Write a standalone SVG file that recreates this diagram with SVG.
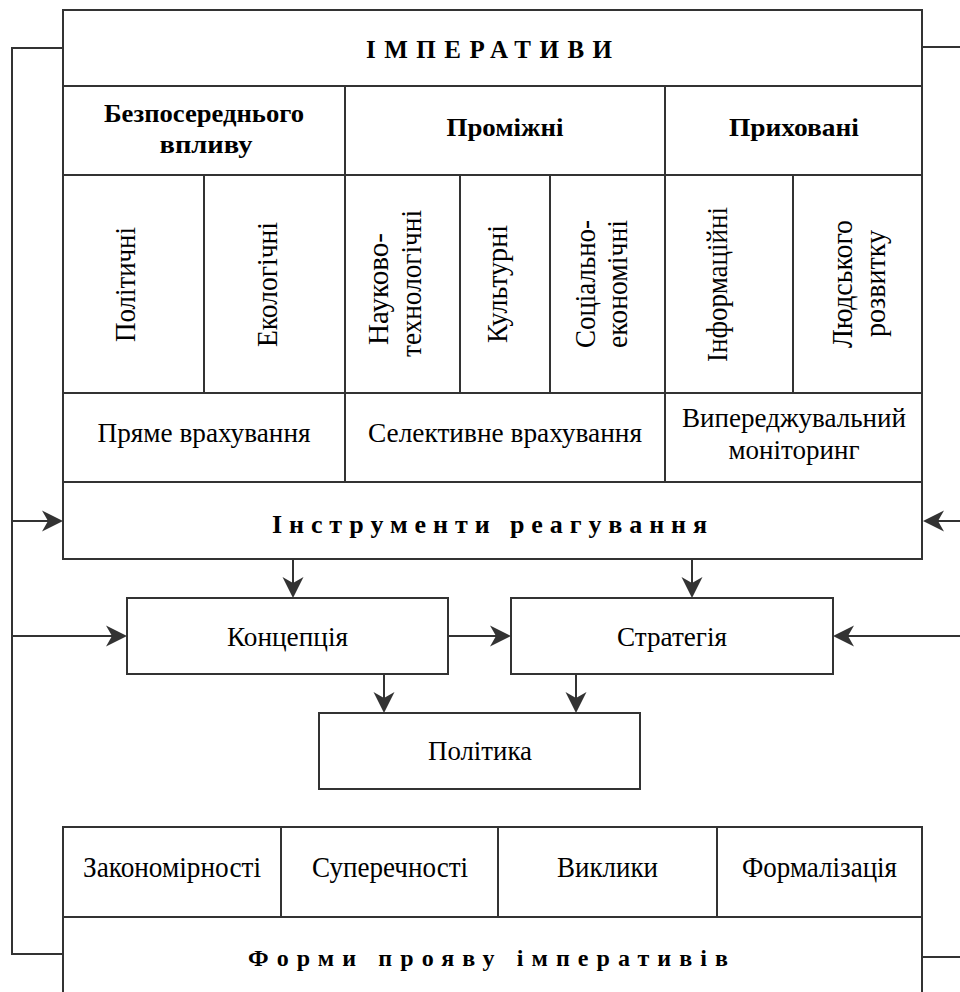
<svg xmlns="http://www.w3.org/2000/svg" width="960" height="992" viewBox="0 0 960 992" font-family="'Liberation Serif', 'DejaVu Serif', serif">
<defs>
<style>
.c{fill:#fff;stroke:#333;stroke-width:2}
.l{fill:none;stroke:#333;stroke-width:2}
text{font-family:"Liberation Serif","DejaVu Serif",serif;fill:#000;text-anchor:middle}
.b{font-weight:bold;font-size:26px}
.r{font-size:27px}
.v{font-size:29px}
.s{font-size:29px}
</style>
<marker id="arr" markerUnits="userSpaceOnUse" markerWidth="24" markerHeight="24" viewBox="-22 -12 24 24" refX="-10" refY="0" orient="auto">
<path d="M0,0 L-21,-10.5 L-15,0 L-21,10.5 Z" fill="#333"/>
</marker>
</defs>
<rect width="960" height="992" fill="#fff"/>

<g id="connectors">
<path class="l" d="M63,48 H12 V954 H63"/>
<path class="l" d="M12,521 H53" marker-end="url(#arr)"/>
<path class="l" d="M12,636 H117" marker-end="url(#arr)"/>
<path class="l" d="M922,47 H960"/>
<path class="l" d="M922,957 H960"/>
<path class="l" d="M960,521 H933" marker-end="url(#arr)"/>
<path class="l" d="M960,636 H843" marker-end="url(#arr)"/>
<path class="l" d="M293,559 V588" marker-end="url(#arr)"/>
<path class="l" d="M692,559 V588" marker-end="url(#arr)"/>
<path class="l" d="M384,674 V703" marker-end="url(#arr)"/>
<path class="l" d="M576,674 V703" marker-end="url(#arr)"/>
<path class="l" d="M448,636 H501" marker-end="url(#arr)"/>
</g>

<g id="imperatives">
<rect class="c" x="63" y="10" width="859" height="76"/>
<text class="b" style="font-size:25px" x="489" y="58" textLength="246" lengthAdjust="spacing">ІМПЕРАТИВИ</text>
</g>
<g id="direct-impact">
<rect class="c" x="63" y="86" width="282" height="89"/>
<text class="b" x="204" y="122" textLength="200" lengthAdjust="spacingAndGlyphs">Безпосереднього</text>
<text class="b" x="206" y="153" textLength="93" lengthAdjust="spacingAndGlyphs">впливу</text>
</g>
<g id="intermediate">
<rect class="c" x="345" y="86" width="320" height="89"/>
<text class="b" x="505" y="136" textLength="117" lengthAdjust="spacingAndGlyphs">Проміжні</text>
</g>
<g id="hidden">
<rect class="c" x="665" y="86" width="257" height="89"/>
<text class="b" x="794" y="136" textLength="130" lengthAdjust="spacingAndGlyphs">Приховані</text>
</g>

<g id="political">
<rect class="c" x="63" y="175" width="141" height="218"/>
<text class="v" transform="translate(135,284.5) rotate(-90)" textLength="115" lengthAdjust="spacingAndGlyphs">Політичні</text>
</g>
<g id="ecological">
<rect class="c" x="204" y="175" width="141" height="218"/>
<text class="v" transform="translate(277,284.5) rotate(-90)" textLength="125" lengthAdjust="spacingAndGlyphs">Екологічні</text>
</g>
<g id="scitech">
<rect class="c" x="345" y="175" width="115" height="218"/>
<text class="v" transform="translate(388,289) rotate(-90)" textLength="112" lengthAdjust="spacingAndGlyphs">Науково-</text>
<text class="v" transform="translate(421,283.5) rotate(-90)" textLength="147" lengthAdjust="spacingAndGlyphs">технологічні</text>
</g>
<g id="cultural">
<rect class="c" x="460" y="175" width="90" height="218"/>
<text class="v" transform="translate(507,284) rotate(-90)" textLength="118" lengthAdjust="spacingAndGlyphs">Культурні</text>
</g>
<g id="socioeconomic">
<rect class="c" x="550" y="175" width="115" height="218"/>
<text class="v" transform="translate(595,284) rotate(-90)" textLength="128" lengthAdjust="spacingAndGlyphs">Соціально-</text>
<text class="v" transform="translate(627,284) rotate(-90)" textLength="128" lengthAdjust="spacingAndGlyphs">економічні</text>
</g>
<g id="informational">
<rect class="c" x="665" y="175" width="128" height="218"/>
<text class="v" transform="translate(727,284.5) rotate(-90)" textLength="155" lengthAdjust="spacingAndGlyphs">Інформаційні</text>
</g>
<g id="human">
<rect class="c" x="793" y="175" width="129" height="218"/>
<text class="v" transform="translate(852,284) rotate(-90)" textLength="128" lengthAdjust="spacingAndGlyphs">Людського</text>
<text class="v" transform="translate(885,283.5) rotate(-90)" textLength="107" lengthAdjust="spacingAndGlyphs">розвитку</text>
</g>

<g id="direct-accounting">
<rect class="c" x="63" y="393" width="282" height="89"/>
<text class="r" x="204" y="442" textLength="213" lengthAdjust="spacingAndGlyphs">Пряме врахування</text>
</g>
<g id="selective-accounting">
<rect class="c" x="345" y="393" width="320" height="89"/>
<text class="r" x="505" y="442" textLength="274" lengthAdjust="spacingAndGlyphs">Селективне врахування</text>
</g>
<g id="monitoring">
<rect class="c" x="665" y="393" width="257" height="89"/>
<text class="r" x="794" y="427" textLength="224" lengthAdjust="spacingAndGlyphs">Випереджувальний</text>
<text class="r" x="794" y="459" textLength="131" lengthAdjust="spacingAndGlyphs">моніторинг</text>
</g>

<g id="instruments">
<rect class="c" x="63" y="482" width="859" height="77"/>
<text class="b" x="489.5" y="533" textLength="435" lengthAdjust="spacing">Інструменти реагування</text>
</g>

<g id="concept">
<rect class="c" x="127" y="598" width="321" height="76"/>
<text class="r" x="287.5" y="646" textLength="121" lengthAdjust="spacingAndGlyphs">Концепція</text>
</g>
<g id="strategy">
<rect class="c" x="511" y="598" width="322" height="76"/>
<text class="r" x="672" y="646" textLength="110" lengthAdjust="spacingAndGlyphs">Стратегія</text>
</g>
<g id="policy">
<rect class="c" x="319" y="713" width="321" height="76"/>
<text class="r" x="480" y="760" textLength="104" lengthAdjust="spacingAndGlyphs">Політика</text>
</g>

<g id="forms">
<rect class="c" x="63" y="917" width="859" height="90"/>
<text class="b" style="font-size:24px" x="488" y="966" textLength="480" lengthAdjust="spacing">Форми прояву імперативів</text>
</g>
<g id="regularities">
<rect class="c" x="63" y="827" width="218" height="90"/>
<text class="s" x="172" y="877" textLength="178" lengthAdjust="spacingAndGlyphs">Закономірності</text>
</g>
<g id="contradictions">
<rect class="c" x="281" y="827" width="217" height="90"/>
<text class="s" x="390" y="877" textLength="156" lengthAdjust="spacingAndGlyphs">Суперечності</text>
</g>
<g id="challenges">
<rect class="c" x="498" y="827" width="219" height="90"/>
<text class="s" x="607.5" y="877" textLength="101" lengthAdjust="spacingAndGlyphs">Виклики</text>
</g>
<g id="formalization">
<rect class="c" x="717" y="827" width="205" height="90"/>
<text class="s" x="819.5" y="877" textLength="155" lengthAdjust="spacingAndGlyphs">Формалізація</text>
</g>
</svg>
